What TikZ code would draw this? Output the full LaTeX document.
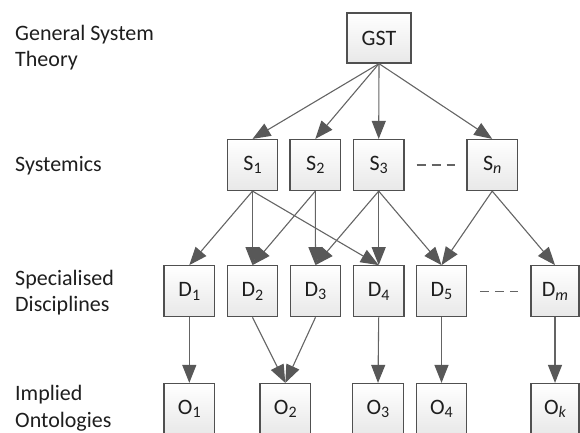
\documentclass[tikz,border=0pt]{standalone}
\usepackage{fontspec}
\setmainfont{Carlito}
\usetikzlibrary{arrows.meta}
\definecolor{linegray}{HTML}{646464}
\definecolor{headgray}{HTML}{585858}
\definecolor{edgegray}{HTML}{505050}
\definecolor{txt}{HTML}{1E1E1E}
\newcommand\subidx[1]{\raisebox{-0.16em}{\fontsize{16}{16}\selectfont #1}}
\tikzset{
  box/.style={draw=edgegray, line width=1.2pt, top color=white, bottom color=gray!18,
    minimum width=50.5pt, minimum height=51pt, inner sep=0pt, text=txt,
    font=\fontsize{22}{26}\selectfont},
  level/.style={anchor=base west, align=left, inner sep=0pt, text=txt,
    font=\fontsize{22}{26.7}\selectfont},
  link/.style={draw=linegray, line width=1.1pt,
    -{Triangle[length=18pt, width=14pt, fill=headgray, color=headgray]}},
  gap/.style={draw=linegray, line width=1.1pt, dash pattern=on 9pt off 6pt}
}
\begin{document}
\begin{tikzpicture}[x=1pt, y=-1pt]
\useasboundingbox (0,0) rectangle (580,432);

% level names (anchored at the baseline of the last line)
\node[level] (l1) at (15,66.7) {General System\\Theory};
\node[level] (l2) at (15,171.7) {Systemics};
\node[level] (l3) at (15,311.7) {Specialised\\Disciplines};
\node[level] (l4) at (15,427) {Implied\\Ontologies};

% general system theory
\node[box, minimum width=64pt, minimum height=50pt] (gst) at (379,38) {GST};

% systemics
\node[box] (s1) at (252.5,165) {S\subidx{1}};
\node[box] (s2) at (315.3,165) {S\subidx{2}};
\node[box] (s3) at (378.7,165) {S\subidx{3}};
\node[box] (sn) at (492.2,165) {S\subidx{\itshape n}};

% disciplines
\node[box] (d1) at (189.3,291.2) {D\subidx{1}};
\node[box] (d2) at (252.5,291.2) {D\subidx{2}};
\node[box] (d3) at (315.5,291.2) {D\subidx{3}};
\node[box] (d4) at (378.7,291.2) {D\subidx{4}};
\node[box] (d5) at (441.5,291.2) {D\subidx{5}};
\node[box, minimum width=48pt] (dm) at (555,291.2) {D\subidx{\itshape m}};

% ontologies
\node[box] (o1) at (189.3,409) {O\subidx{1}};
\node[box] (o2) at (285.3,409) {O\subidx{2}};
\node[box] (o3) at (378,409) {O\subidx{3}};
\node[box] (o4) at (441.5,409) {O\subidx{4}};
\node[box, minimum width=48pt] (ok) at (555,409) {O\subidx{\itshape k}};

% ellipses between boxes
\draw[gap] ([xshift=12pt]s3.east) -- ([xshift=-11.5pt]sn.west);
\draw[gap] ([xshift=12.5pt]d5.east) -- ([xshift=-12.5pt]dm.west);

% GST to systemics
\foreach \t in {s1,s2,s3,sn} \draw[link] (gst.south) -- (\t.north);

% systemics to disciplines
\draw[link] (s1.south) -- (d1.north);
\draw[link] (s1.south) -- (d2.north);
\draw[link] (s1.south) -- (d4.north);
\draw[link] (s2.south) -- (d2.north);
\draw[link] (s2.south) -- (d3.north);
\draw[link] (s3.south) -- (d3.north);
\draw[link] (s3.south) -- (d4.north);
\draw[link] (s3.south) -- (d5.north);
\draw[link] (sn.south) -- (d5.north);
\draw[link] (sn.south) -- (dm.north);

% disciplines to ontologies
\draw[link] (d1.south) -- (o1.north);
\draw[link] (d2.south) -- (o2.north);
\draw[link] (d3.south) -- (o2.north);
\draw[link] (d4.south) -- (o3.north);
\draw[link] (d5.south) -- (o4.north);
\draw[link] (dm.south) -- (ok.north);
\end{tikzpicture}
\end{document}
